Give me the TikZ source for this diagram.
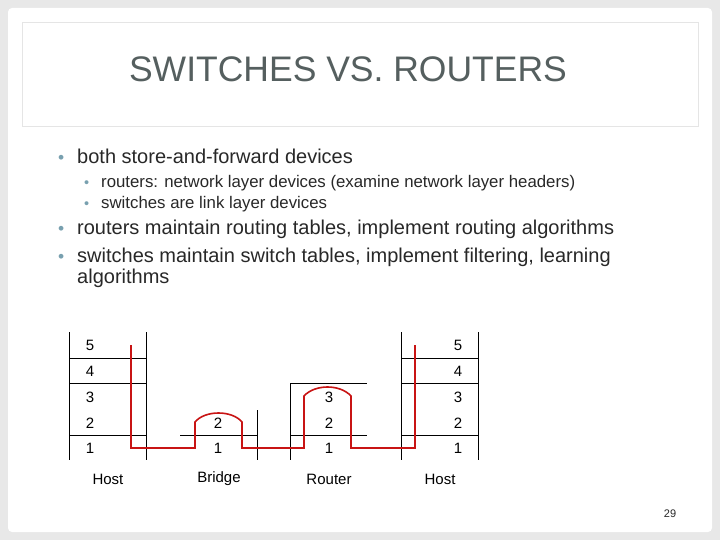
\documentclass[tikz,border=0pt]{standalone}
\usepackage{fontspec}
\setmainfont{Liberation Sans}
\definecolor{slidebg}{RGB}{232,232,232}
\definecolor{titlegray}{RGB}{85,95,95}
\definecolor{bodygray}{RGB}{40,40,40}
\definecolor{dotblue}{RGB}{120,160,175}
\definecolor{pathred}{RGB}{200,20,20}
\begin{document}
\begin{tikzpicture}[x=1pt,y=-1pt,
    bodytext/.style={anchor=base west,inner sep=0pt,text=bodygray,font=\fontsize{20}{24}\selectfont},
    subtext/.style={anchor=base west,inner sep=0pt,text=bodygray,font=\fontsize{16.8}{20}\selectfont},
    dot/.style={anchor=base west,inner sep=0pt,text=dotblue},
    layer/.style={inner sep=0pt,font=\fontsize{15}{18}\selectfont},
    stackline/.style={line width=0.8pt},
    redpath/.style={draw=pathred,line width=1.6pt}
  ]
  \fill[slidebg] (0,0) rectangle (720,540);
  \useasboundingbox (0,0) rectangle (720,540);
  \fill[white,rounded corners=4pt] (8,8) rectangle (712,532);
  \draw[black!10,fill=white] (22,22) rectangle (698,126);
  \node[inner sep=0pt,text=titlegray,font=\fontsize{35.5}{40}\selectfont] (title) at (348,69) {SWITCHES VS. ROUTERS};
  % bullets
  \node[dot,font=\fontsize{17.5}{21}\selectfont] (d1) at (58,164) {•};
  \node[bodytext] (b1) at (77,164) {both store-and-forward devices};
  \node[dot,font=\fontsize{14.5}{17}\selectfont] (d2) at (84,188) {•};
  \node[subtext] (b2) at (101,188) {routers: network layer devices (examine network layer headers)};
  \node[dot,font=\fontsize{14.5}{17}\selectfont] (d3) at (84,209) {•};
  \node[subtext] (b3) at (101,209) {switches are link layer devices};
  \node[dot,font=\fontsize{17.5}{21}\selectfont] (d4) at (58,235) {•};
  \node[bodytext] (b4) at (77,235) {routers maintain routing tables, implement routing algorithms};
  \node[dot,font=\fontsize{17.5}{21}\selectfont] (d5) at (58,262) {•};
  \node[bodytext] (b5) at (77,262) {switches maintain switch tables, implement filtering, learning};
  \node[bodytext] (b6) at (77,283) {algorithms};
  % figure
  \fill[white] (58,324) rectangle (488,493);
  % left host
  \draw[stackline] (69,332) -- (69,460) (146,332) -- (146,460);
  \foreach \y in {358,383,435} \draw[stackline] (69,\y) -- (146,\y);
  % right host
  \draw[stackline] (401,332) -- (401,460) (478,332) -- (478,460);
  \foreach \y in {358,383,435} \draw[stackline] (401,\y) -- (478,\y);
  % bridge
  \draw[stackline] (180,435) -- (257,435) (257,410) -- (257,460);
  % router
  \draw[stackline] (290,383) -- (290,460) (290,383) -- (367,383) (290,435) -- (367,435);
  % layer numbers
  \foreach \n/\y in {5/345,4/371,3/397,2/423,1/448} {
    \node[layer] (lh\n) at (90,\y) {\n};
    \node[layer] (rh\n) at (458,\y) {\n};
  }
  \node[layer] (b2n) at (218,423) {2};
  \node[layer] (b1n) at (218,448) {1};
  \node[layer] (r3n) at (329,397) {3};
  \node[layer] (r2n) at (329,423) {2};
  \node[layer] (r1n) at (329,448) {1};
  \node[layer] (hostl) at (108,479) {Host};
  \node[layer] (bridge) at (219,479) {Bridge};
  \node[layer] (router) at (329,479) {Router};
  \node[layer] (hostr) at (440,479) {Host};
  % path
  \draw[redpath] (131,345) -- (131,448) -- (195,448) -- (195,422)
    .. controls (205,410) and (232,410) .. (242,422) -- (242,448) -- (304,448) -- (304,396)
    .. controls (315,384) and (340,384) .. (351,396) -- (351,448) -- (415,448) -- (415,345);
  \node[inner sep=0pt,font=\fontsize{11}{13}\selectfont,text=bodygray] (page) at (670,514) {29};
\end{tikzpicture}
\end{document}
